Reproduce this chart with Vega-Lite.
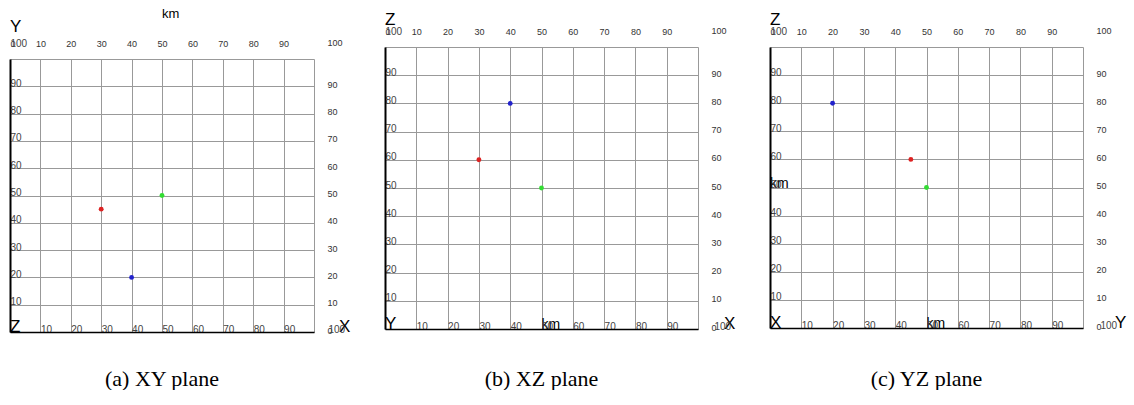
{
  "$schema": "https://vega.github.io/schema/vega-lite/v6.json",
  "background": "white",
  "padding": {"left": 10, "top": 8, "right": 0, "bottom": 0},
  "spacing": 34,
  "config": {
    "view": {"stroke": null},
    "axis": {"ticks": false, "tickSize": 0, "labelFont": "Liberation Sans", "labelColor": "#333333", "gridColor": "#999999", "gridWidth": 1, "domainColor": "#000000", "title": null, "labelOverlap": false, "labelFlush": false, "labelBound": false},
    "title": {"font": "Liberation Serif", "fontSize": 22, "fontWeight": "normal", "orient": "bottom", "color": "#000000", "anchor": "middle"},
    "text": {"font": "Liberation Sans", "color": "#000000"}
  },
  "datasets": {
    "points": [
      {"panel": "a", "x": 30, "y": 45, "c": "red"},
      {"panel": "a", "x": 50, "y": 50, "c": "green"},
      {"panel": "a", "x": 40, "y": 20, "c": "blue"},
      {"panel": "b", "x": 40, "y": 80, "c": "blue"},
      {"panel": "b", "x": 30, "y": 60, "c": "red"},
      {"panel": "b", "x": 50, "y": 50, "c": "green"},
      {"panel": "c", "x": 20, "y": 80, "c": "blue"},
      {"panel": "c", "x": 45, "y": 60, "c": "red"},
      {"panel": "c", "x": 50, "y": 50, "c": "green"}
    ],
    "labels": [
      {"panel": "a", "kind": "big", "t": "Y", "x": 0, "y": 110},
      {"panel": "a", "kind": "big", "t": "Z", "x": 0, "y": 0},
      {"panel": "a", "kind": "big", "t": "X", "x": 108.2, "y": 0},
      {"panel": "a", "kind": "km", "t": "km", "x": 50, "y": 114.9},
      {"panel": "b", "kind": "big", "t": "Z", "x": 0, "y": 107.8},
      {"panel": "b", "kind": "big", "t": "Y", "x": 0, "y": 0},
      {"panel": "b", "kind": "big", "t": "X", "x": 108.3, "y": 0},
      {"panel": "b", "kind": "km", "t": "km", "x": 50, "y": 0},
      {"panel": "c", "kind": "big", "t": "Z", "x": 0, "y": 107.8},
      {"panel": "c", "kind": "big", "t": "X", "x": 0, "y": 0},
      {"panel": "c", "kind": "big", "t": "Y", "x": 110.2, "y": 0},
      {"panel": "c", "kind": "km", "t": "km", "x": 50, "y": 0},
      {"panel": "c", "kind": "km", "t": "km", "x": 0, "y": 50}
    ]
  },
  "hconcat": [
    {
      "width": 304, "height": 285,
      "title": {"text": "(a) XY plane", "offset": 34},
      "layer": [
        {
          "data": {"name": "points"},
          "transform": [{"filter": "datum.panel == 'a'"}],
          "mark": {"type": "point", "filled": true, "size": 24, "opacity": 1},
          "encoding": {
            "x": {"field": "x", "type": "quantitative", "scale": {"domain": [0, 100], "nice": false, "zero": false},
              "axis": {"orient": "top", "values": [0,10,20,30,40,50,60,70,80,90,100], "grid": true, "domain": false, "labelFontSize": 9, "labelPadding": 1, "labelBaseline": "alphabetic",
                "labelExpr": "datum.value == 100 ? '' : datum.label",
                "labelAlign": {"condition": {"test": "datum.value == 0", "value": "left"}, "value": "center"}}},
            "y": {"field": "y", "type": "quantitative", "scale": {"domain": [0, 100], "range": [285, 12], "nice": false, "zero": false},
              "axis": {"orient": "right", "values": [0,10,20,30,40,50,60,70,80,90,100], "grid": true, "domain": false, "labelFontSize": 9, "labelPadding": 13, "labelAlign": "left", "labelBaseline": "middle",
                "labelOffset": {"condition": {"test": "datum.value == 100", "value": -17}, "value": -2}}},
            "color": {"field": "c", "type": "nominal", "scale": {"domain": ["red", "green", "blue"], "range": ["#dd2222", "#33dd33", "#2222cc"]}, "legend": null}
          }
        },
        {
          "data": {"name": "labels"},
          "transform": [{"filter": "datum.panel == 'a' && datum.kind == 'big'"}],
          "mark": {"type": "text", "fontSize": 17, "align": "left", "baseline": "alphabetic"},
          "encoding": {
            "x": {"field": "x", "type": "quantitative", "scale": {"domain": [0, 100], "nice": false, "zero": false},
              "axis": {"orient": "bottom", "values": [0,10,20,30,40,50,60,70,80,90,100], "grid": false, "domain": true, "domainWidth": 1.5, "labelFontSize": 10, "labelPadding": 0, "labelAlign": "left", "labelBaseline": "alphabetic", "labelColor": "#444444", "zindex": 1,
                "labelExpr": "datum.value == 0 ? '' : datum.label",
                "labelOffset": {"condition": {"test": "datum.value == 100", "value": 14}, "value": 0}}},
            "y": {"field": "y", "type": "quantitative", "scale": {"domain": [0, 100], "range": [285, 12], "nice": false, "zero": false},
              "axis": {"orient": "left", "values": [0,10,20,30,40,50,60,70,80,90,100], "grid": false, "domain": true, "domainWidth": 2, "labelFontSize": 10, "labelPadding": 0, "labelAlign": "left", "labelBaseline": "alphabetic", "labelColor": "#444444", "zindex": 1,
                "labelExpr": "datum.value == 0 ? '' : datum.label",
                "labelOffset": {"condition": {"test": "datum.value == 100", "value": -13}, "value": 0}}},
            "text": {"field": "t"}
          }
        },
        {
          "data": {"name": "labels"},
          "transform": [{"filter": "datum.panel == 'a' && datum.kind == 'km'"}],
          "mark": {"type": "text", "fontSize": 13, "align": "left", "baseline": "alphabetic"},
          "encoding": {
            "x": {"field": "x", "type": "quantitative", "axis": null},
            "y": {"field": "y", "type": "quantitative", "axis": null},
            "text": {"field": "t"}
          }
        }
      ],
      "resolve": {"axis": {"x": "independent", "y": "independent"}}
    },
    {
      "width": 313, "height": 282,
      "title": {"text": "(b) XZ plane", "offset": 37},
      "layer": [
        {
          "data": {"name": "points"},
          "transform": [{"filter": "datum.panel == 'b'"}],
          "mark": {"type": "point", "filled": true, "size": 24, "opacity": 1},
          "encoding": {
            "x": {"field": "x", "type": "quantitative", "scale": {"domain": [0, 100], "nice": false, "zero": false},
              "axis": {"orient": "top", "values": [0,10,20,30,40,50,60,70,80,90,100], "grid": true, "domain": false, "labelFontSize": 9, "labelPadding": 13, "labelBaseline": "alphabetic",
                "labelExpr": "datum.value == 100 ? '' : datum.label",
                "labelAlign": {"condition": {"test": "datum.value == 0", "value": "left"}, "value": "center"}}},
            "y": {"field": "y", "type": "quantitative", "scale": {"domain": [0, 100], "nice": false, "zero": false},
              "axis": {"orient": "right", "values": [0,10,20,30,40,50,60,70,80,90,100], "grid": true, "domain": false, "labelFontSize": 9, "labelPadding": 13, "labelAlign": "left", "labelBaseline": "middle",
                "labelOffset": {"condition": {"test": "datum.value == 100", "value": -17}, "value": -2}}},
            "color": {"field": "c", "type": "nominal", "scale": {"domain": ["red", "green", "blue"], "range": ["#dd2222", "#33dd33", "#2222cc"]}, "legend": null}
          }
        },
        {
          "data": {"name": "labels"},
          "transform": [{"filter": "datum.panel == 'b' && datum.kind == 'big'"}],
          "mark": {"type": "text", "fontSize": 17, "align": "left", "baseline": "alphabetic"},
          "encoding": {
            "x": {"field": "x", "type": "quantitative", "scale": {"domain": [0, 100], "nice": false, "zero": false},
              "axis": {"orient": "bottom", "values": [0,10,20,30,40,50,60,70,80,90,100], "grid": false, "domain": true, "domainWidth": 1.5, "labelFontSize": 10, "labelPadding": 0, "labelAlign": "left", "labelBaseline": "alphabetic", "labelColor": "#444444", "zindex": 1,
                "labelExpr": "datum.value == 0 ? '' : datum.label",
                "labelOffset": {"condition": {"test": "datum.value == 100", "value": 16}, "value": 0}}},
            "y": {"field": "y", "type": "quantitative", "scale": {"domain": [0, 100], "nice": false, "zero": false},
              "axis": {"orient": "left", "values": [0,10,20,30,40,50,60,70,80,90,100], "grid": false, "domain": true, "domainWidth": 2, "labelFontSize": 10, "labelPadding": 0, "labelAlign": "left", "labelBaseline": "alphabetic", "labelColor": "#444444", "zindex": 1,
                "labelExpr": "datum.value == 0 ? '' : datum.label",
                "labelOffset": {"condition": {"test": "datum.value == 100", "value": -13}, "value": 0}}},
            "text": {"field": "t"}
          }
        },
        {
          "data": {"name": "labels"},
          "transform": [{"filter": "datum.panel == 'b' && datum.kind == 'km'"}],
          "mark": {"type": "text", "fontSize": 14, "align": "left", "baseline": "alphabetic"},
          "encoding": {
            "x": {"field": "x", "type": "quantitative", "axis": null},
            "y": {"field": "y", "type": "quantitative", "axis": null},
            "text": {"field": "t"}
          }
        }
      ],
      "resolve": {"axis": {"x": "independent", "y": "independent"}}
    },
    {
      "width": 313, "height": 281,
      "title": {"text": "(c) YZ plane", "offset": 38},
      "layer": [
        {
          "data": {"name": "points"},
          "transform": [{"filter": "datum.panel == 'c'"}],
          "mark": {"type": "point", "filled": true, "size": 24, "opacity": 1},
          "encoding": {
            "x": {"field": "x", "type": "quantitative", "scale": {"domain": [0, 100], "nice": false, "zero": false},
              "axis": {"orient": "top", "values": [0,10,20,30,40,50,60,70,80,90,100], "grid": true, "domain": false, "labelFontSize": 9, "labelPadding": 13, "labelBaseline": "alphabetic",
                "labelExpr": "datum.value == 100 ? '' : datum.label",
                "labelAlign": {"condition": {"test": "datum.value == 0", "value": "left"}, "value": "center"}}},
            "y": {"field": "y", "type": "quantitative", "scale": {"domain": [0, 100], "nice": false, "zero": false},
              "axis": {"orient": "right", "values": [0,10,20,30,40,50,60,70,80,90,100], "grid": true, "domain": false, "labelFontSize": 9, "labelPadding": 13, "labelAlign": "left", "labelBaseline": "middle",
                "labelOffset": {"condition": {"test": "datum.value == 100", "value": -17}, "value": -2}}},
            "color": {"field": "c", "type": "nominal", "scale": {"domain": ["red", "green", "blue"], "range": ["#dd2222", "#33dd33", "#2222cc"]}, "legend": null}
          }
        },
        {
          "data": {"name": "labels"},
          "transform": [{"filter": "datum.panel == 'c' && datum.kind == 'big'"}],
          "mark": {"type": "text", "fontSize": 17, "align": "left", "baseline": "alphabetic"},
          "encoding": {
            "x": {"field": "x", "type": "quantitative", "scale": {"domain": [0, 100], "nice": false, "zero": false},
              "axis": {"orient": "bottom", "values": [0,10,20,30,40,50,60,70,80,90,100], "grid": false, "domain": true, "domainWidth": 1.5, "labelFontSize": 10, "labelPadding": 0, "labelAlign": "left", "labelBaseline": "alphabetic", "labelColor": "#444444", "zindex": 1,
                "labelExpr": "datum.value == 0 ? '' : datum.label",
                "labelOffset": {"condition": {"test": "datum.value == 100", "value": 17}, "value": 0}}},
            "y": {"field": "y", "type": "quantitative", "scale": {"domain": [0, 100], "nice": false, "zero": false},
              "axis": {"orient": "left", "values": [0,10,20,30,40,50,60,70,80,90,100], "grid": false, "domain": true, "domainWidth": 2, "labelFontSize": 10, "labelPadding": 0, "labelAlign": "left", "labelBaseline": "alphabetic", "labelColor": "#444444", "zindex": 1,
                "labelExpr": "datum.value == 0 ? '' : datum.label",
                "labelOffset": {"condition": {"test": "datum.value == 100", "value": -13}, "value": 0}}},
            "text": {"field": "t"}
          }
        },
        {
          "data": {"name": "labels"},
          "transform": [{"filter": "datum.panel == 'c' && datum.kind == 'km'"}],
          "mark": {"type": "text", "fontSize": 14, "align": "left", "baseline": "alphabetic"},
          "encoding": {
            "x": {"field": "x", "type": "quantitative", "axis": null},
            "y": {"field": "y", "type": "quantitative", "axis": null},
            "text": {"field": "t"}
          }
        }
      ],
      "resolve": {"axis": {"x": "independent", "y": "independent"}}
    }
  ]
}
